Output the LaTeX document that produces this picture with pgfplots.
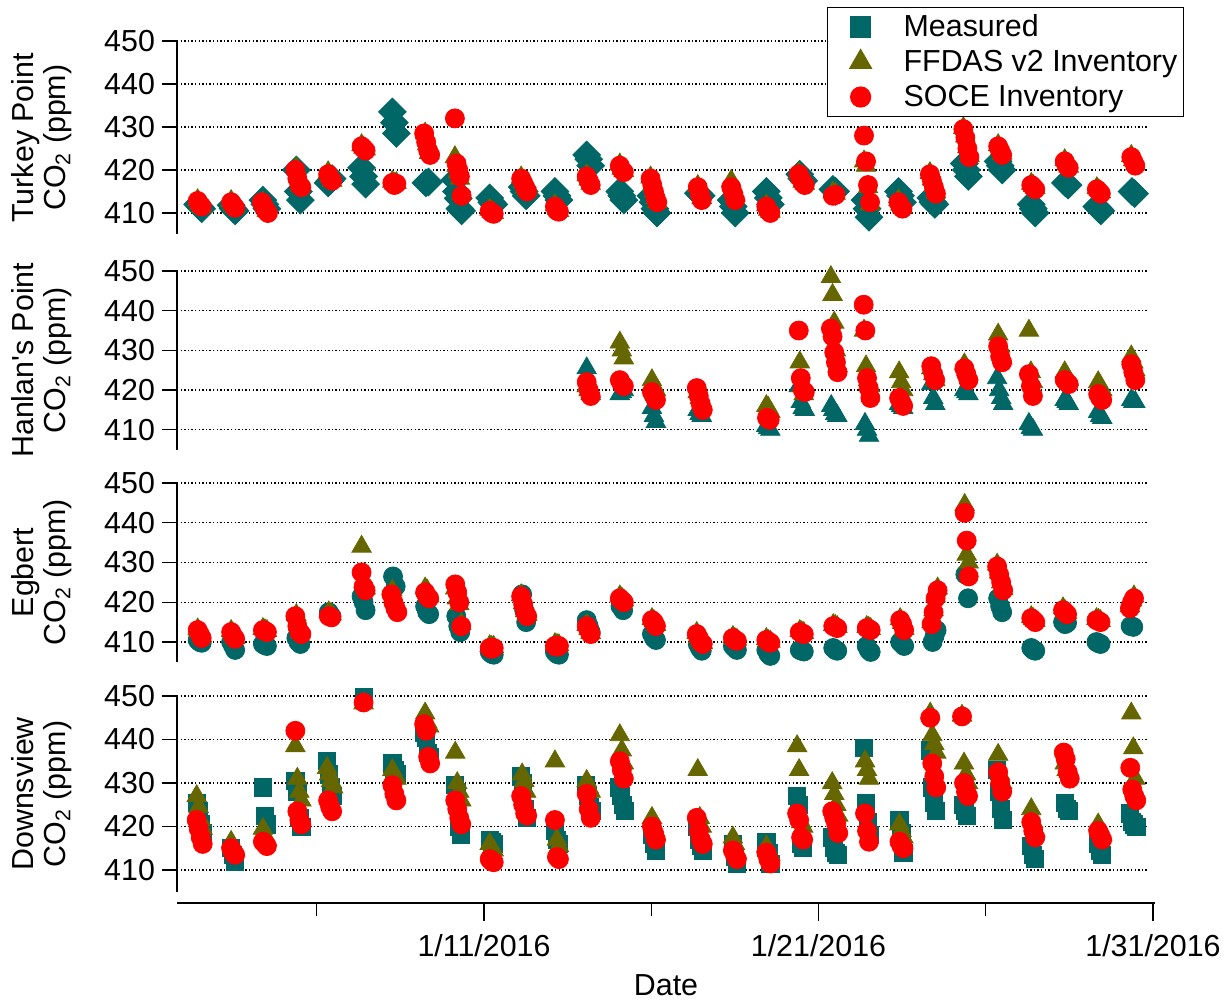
\documentclass[border=0pt]{standalone}
\usepackage{fontspec}
\setmainfont{Liberation Sans}
\usepackage{pgfplots}
\pgfplotsset{compat=1.18}
\definecolor{mteal}{RGB}{0,102,102}
\definecolor{molive}{RGB}{102,102,0}
\definecolor{mred}{RGB}{255,0,0}
\newcommand{\fs}{\fontsize{15.2}{16}\selectfont}
\pgfplotsset{
 panel/.style={
  scale only axis, width=485.5pt, xmin=1.822, xmax=30.85, ymin=405, ymax=450,
  axis x line=none, axis y line*=left, ytick={410,420,...,450},
  tick align=outside, major tick length=7.5pt,
  ymajorgrids, major grid style={black, line width=0.6pt, dash pattern=on 0.7pt off 1.1pt},
  axis line style={black, line width=0.9pt},
  tick style={black, line width=0.7pt},
  tick label style={font=\fs},
  /pgf/number format/assume math mode=true,
  /pgf/number format/1000 sep={},
  clip=false, anchor=south west,
  ylabel style={align=center, font=\fs, inner sep=0pt, at={(axis description cs:-0.108,0.5)}, anchor=south},
 },
 sMd/.style={only marks, mark=square*, mark size=4.9pt, mark options={rotate=45, draw=mteal, fill=mteal}},
 sMt/.style={only marks, mark=triangle*, mark size=5.6pt, mark options={draw=mteal, fill=mteal}},
 sMc/.style={only marks, mark=*, mark size=4.75pt, mark options={draw=mteal, fill=mteal}},
 sMs/.style={only marks, mark=square*, mark size=4.3pt, mark options={draw=mteal, fill=mteal}},
 sF/.style={only marks, mark=triangle*, mark size=5.6pt, mark options={draw=molive, fill=molive}},
 sS/.style={only marks, mark=*, mark size=4.75pt, mark options={draw=mred, fill=mred}},
}
\begin{document}
\begin{tikzpicture}
\useasboundingbox (0,0) rectangle (615.5pt,502pt);
% ---------------- Turkey Point ----------------
\begin{axis}[panel, at={(88.5pt,384.75pt)}, height=96.75pt,
  ylabel={Turkey Point\\CO\textsubscript{2} (ppm)},
  legend style={at={(1.037,1.176)}, anchor=north east, draw=black, line width=0.6pt, fill=white,
    font=\fs, inner xsep=1.5pt, inner ysep=1pt, row sep=0pt,
    nodes={inner xsep=1.5pt, inner ysep=1.25pt, text height=12pt, text depth=3pt}},
  legend cell align=left,
  legend image code/.code={\path[draw=none,fill=none] (-15pt,0pt) (20pt,0pt); \draw[#1] plot coordinates {(0pt,0pt)};}]
\addlegendimage{only marks, mark=square*, mark size=5pt, mark options={draw=mteal, fill=mteal}}
\addlegendentry{Measured}
\addlegendimage{only marks, mark=triangle*, mark size=6.2pt, mark options={draw=molive, fill=molive}}
\addlegendentry{FFDAS v2 Inventory}
\addlegendimage{only marks, mark=*, mark size=5pt, mark options={draw=mred, fill=mred}}
\addlegendentry{SOCE Inventory}
\addplot[sMd, forget plot] coordinates {
(2.44,412)(2.5,411.5)(2.56,411)
(3.44,411.8)(3.5,411)(3.56,410.5)
(4.39,413)(4.45,412)(4.51,411)
(5.39,420)(5.45,415)(5.51,413)
(6.34,417)(6.4,417.5)(6.46,418)
(7.34,420.5)(7.4,418.5)(7.46,416.7)
(8.26,433.5)(8.32,431)(8.38,428.5)
(9.26,417)(9.34,417.2)
(10.13,417.7)(10.18,415)(10.23,413.4)(10.28,411)(10.33,410.5)
(11.17,413.5)(11.23,412.5)(11.29,412)
(12.14,416)(12.2,415)(12.26,414)
(13.12,415)(13.18,414)(13.24,413)
(14.07,423.5)(14.13,422.5)(14.19,421)
(15.06,415)(15.12,414)(15.18,413)
(15.99,414)(16.05,412.5)(16.11,411)(16.17,410)
(17.41,414.6)(17.49,414)
(18.39,413)(18.45,411.5)(18.51,410)
(19.44,415)(19.5,413.5)(19.56,412)
(20.44,419)(20.5,418)(20.56,417.5)
(21.43,415.5)(21.51,415)
(22.39,413)(22.45,411)(22.51,409)
(23.39,415)(23.45,414)(23.51,412.5)
(24.36,413.5)(24.42,412.5)(24.48,412)
(25.36,421.5)(25.42,420)(25.48,418.5)
(26.37,422)(26.43,421)(26.49,420)
(27.36,412)(27.42,411)(27.48,410)
(28.38,417)(28.46,416.5)
(29.32,411.5)(29.38,411)(29.44,410.5)
(30.37,415)(30.45,414.5)
};
\addplot[sF, forget plot] coordinates {
(2.44,413)(2.5,412.2)(2.56,411.5)
(3.44,412.8)(3.5,412)(3.56,411.5)
(4.39,412.5)(4.45,411.5)(4.51,410.5)
(5.39,420.5)(5.45,418.5)(5.51,416.5)
(6.34,419.5)(6.4,418.5)(6.46,417.5)
(7.34,425.8)(7.4,425.2)(7.46,424.8)
(8.26,417.3)(8.32,416.8)(8.38,417)
(9.24,428.5)(9.3,426)(9.36,424)
(10.13,423)(10.18,421)(10.23,419.5)(10.28,418)(10.33,414.5)
(11.17,410.8)(11.23,410.3)(11.29,410)
(12.11,418.3)(12.17,417.2)(12.23,416)(12.29,415.3)
(13.12,411.8)(13.18,411)(13.24,410.5)
(14.07,418.8)(14.13,417.8)(14.19,416.8)
(15.06,421.3)(15.12,420.3)(15.18,419.8)
(15.98,418.3)(16.03,416.5)(16.08,415)(16.13,413.5)(16.18,412.5)
(17.39,416.3)(17.45,415)(17.51,413.5)
(18.39,417.5)(18.45,416)(18.51,414)
(19.44,411.8)(19.5,410.8)(19.56,410.3)
(20.41,419.3)(20.47,418.3)(20.53,417.3)(20.59,416.8)
(21.43,414.8)(21.51,414.5)
(22.36,422)(22.42,421)(22.48,416)(22.54,412)
(23.39,413)(23.45,412)(23.51,411.3)
(24.33,419.3)(24.39,417.8)(24.45,416.3)(24.51,414.8)
(25.33,429.8)(25.39,427.8)(25.45,425.3)(25.51,423.3)
(26.37,425.8)(26.43,424.8)(26.49,423.8)
(27.36,416.8)(27.42,416.3)(27.48,415.8)
(28.36,422.3)(28.42,421.3)(28.48,420.8)
(29.32,415.8)(29.38,415.3)(29.44,414.8)
(30.35,423.3)(30.41,422.3)(30.47,421.3)
};
\addplot[sS, forget plot] coordinates {
(2.44,412.8)(2.5,412)(2.56,411.5)
(3.44,412.5)(3.5,411.8)(3.56,411.2)
(4.36,412.5)(4.42,411.5)(4.48,410.5)(4.54,410)
(5.36,420)(5.42,418)(5.48,416.5)(5.54,416)
(6.34,419)(6.4,418)(6.46,417.5)
(7.34,425.5)(7.4,425)(7.46,424.5)
(8.26,417)(8.32,416.5)(8.38,416.8)
(9.21,428.5)(9.27,426.5)(9.33,424.5)(9.39,423.5)
(10.13,432)(10.18,421.5)(10.23,420)(10.28,418.5)(10.33,414)
(11.17,410.5)(11.23,410)(11.29,409.8)
(12.11,418)(12.17,417)(12.23,416)(12.29,415)
(13.12,411.5)(13.18,410.5)(13.24,410.3)
(14.07,418.5)(14.13,417.5)(14.19,416.5)
(15.06,421)(15.12,420)(15.18,419.5)
(15.98,418)(16.03,416.5)(16.08,415)(16.13,413.5)(16.18,412.5)
(17.39,416)(17.45,414.5)(17.51,413)
(18.39,416)(18.45,414.5)(18.51,413)
(19.44,411.5)(19.5,410.5)(19.56,410)
(20.41,419)(20.47,418)(20.53,417)(20.59,416.5)
(21.43,414)(21.51,414.2)
(22.36,428)(22.42,422)(22.48,416.5)(22.54,412.5)
(23.39,412.5)(23.45,411.5)(23.51,411)
(24.33,419)(24.39,417.5)(24.45,416)(24.51,414.5)
(25.33,429.5)(25.39,427.5)(25.45,425)(25.51,423)
(26.37,425.5)(26.43,424.5)(26.49,423.5)
(27.36,416.5)(27.42,416)(27.48,415.5)
(28.36,422)(28.42,421)(28.48,420.5)
(29.32,415.5)(29.38,415)(29.44,414.5)
(30.35,423)(30.41,422)(30.47,421)
};
\end{axis}
% ---------------- Hanlan's Point ----------------
\begin{axis}[panel, at={(88.5pt,277.2pt)}, height=89.3pt,
  ylabel={Hanlan\textquotesingle s Point\\CO\textsubscript{2} (ppm)}]
\addplot[sMt] coordinates {
(14.07,425.5)(14.13,421)(14.19,419)
(15.06,419)(15.12,419.5)(15.18,420)
(16.02,415.5)(16.08,413.5)(16.14,412)
(17.39,415)(17.45,414)(17.51,413.5)
(19.44,411)(19.5,410.5)(19.56,410)
(20.41,421)(20.47,417)(20.53,415.5)(20.59,415)
(21.38,416)(21.44,415)(21.5,414)(21.56,413.5)
(22.39,411.5)(22.45,410)(22.51,408.5)
(23.41,416.5)(23.47,416)(23.53,415.5)
(24.37,421.5)(24.43,418)(24.49,416.5)
(25.36,420)(25.42,419.5)(25.48,419)
(26.34,423)(26.4,420)(26.46,418)(26.52,416.5)
(27.29,411.5)(27.35,410.5)(27.41,410)
(28.36,417.5)(28.42,417)(28.48,416.5)
(29.36,414.5)(29.42,413.5)(29.48,413)
(30.35,417.5)(30.41,417)(30.47,417)
};
\addplot[sF] coordinates {
(14.07,421)(14.13,420)(14.19,419.5)
(15.06,432)(15.12,430)(15.18,428)
(16.02,422.5)(16.08,421)(16.14,420)
(17.39,419.5)(17.45,418)(17.51,416.5)
(19.44,416)(19.5,415.5)(19.56,414.5)
(20.44,427)(20.5,421)(20.56,419)
(21.37,448.5)(21.42,444)(21.47,437)(21.52,430)(21.57,426)
(22.36,435)(22.42,426)(22.48,422.5)(22.54,421)
(23.41,424.5)(23.47,422)(23.53,420)
(24.37,425.5)(24.43,424)(24.49,422.5)
(25.36,426.5)(25.42,425)(25.48,424)
(26.37,434)(26.43,431)(26.49,428)
(27.29,435)(27.35,424.5)(27.41,422)
(28.36,424.5)(28.42,423)(28.48,422.5)
(29.36,422)(29.42,421)(29.48,420)
(30.35,428.5)(30.41,427)(30.47,425)
};
\addplot[sS] coordinates {
(14.07,422)(14.13,420)(14.19,418.5)
(15.06,422.5)(15.12,421.5)(15.18,421)
(16.02,419.5)(16.08,418.5)(16.14,417.5)
(17.36,420.5)(17.42,418.5)(17.48,416.5)(17.54,415)
(19.46,413)(19.54,412.5)
(20.41,435)(20.47,423)(20.53,420)(20.59,419.5)
(21.37,435.5)(21.42,433.5)(21.47,429.5)(21.52,427)(21.57,424.5)
(22.35,441.5)(22.4,435)(22.45,423)(22.5,420.5)(22.55,418)
(23.41,418)(23.47,417)(23.53,416)
(24.37,426)(24.43,424)(24.49,422.5)
(25.36,425.5)(25.42,424)(25.48,422.5)
(26.37,431)(26.43,428.5)(26.49,427)
(27.29,424)(27.35,421)(27.41,418.5)
(28.36,422.5)(28.42,422)(28.48,421.5)
(29.36,419)(29.42,418)(29.48,417.5)
(30.35,426.5)(30.41,424.5)(30.47,422.5)
};
\end{axis}
% ---------------- Egbert ----------------
\begin{axis}[panel, at={(88.5pt,171.05pt)}, height=89.45pt,
  ylabel={Egbert\\CO\textsubscript{2} (ppm)}]
\addplot[sMc] coordinates {
(2.44,410.5)(2.5,410)(2.56,409.8)
(3.44,410)(3.5,409)(3.56,408)
(4.39,409.5)(4.45,409.2)(4.51,409)
(5.39,411)(5.45,410)(5.51,409.5)
(6.36,417.5)(6.44,416.5)
(7.34,421.5)(7.4,420)(7.46,418)
(8.28,426.5)(8.36,424)
(9.24,419)(9.3,417.5)(9.36,417)
(10.17,416.5)(10.23,414)(10.29,412.5)
(11.17,407.5)(11.23,407)(11.29,406.8)
(12.14,422)(12.2,418)(12.26,415)
(13.12,407.5)(13.18,407)(13.24,406.8)
(14.07,415.5)(14.13,414)(14.19,412.5)
(15.08,419)(15.16,418)
(16.02,412)(16.08,411)(16.14,410.5)
(17.39,409.5)(17.45,408.5)(17.51,407.8)
(18.44,409)(18.5,408.5)(18.56,408)
(19.44,408)(19.5,407)(19.56,406.5)
(20.44,408)(20.5,407.8)(20.56,407.6)
(21.44,408.5)(21.5,408)(21.56,407.8)
(22.44,409)(22.5,408)(22.56,407.5)
(23.44,410)(23.5,409.5)(23.56,409)
(24.41,410)(24.47,411.5)(24.53,413)
(25.39,427)(25.47,421)
(26.37,421)(26.43,419)(26.49,417.5)
(27.36,408.5)(27.42,408)(27.48,407.8)
(28.31,415)(28.37,414.5)(28.43,414.8)
(29.31,410)(29.37,409.7)(29.43,409.5)
(30.33,414)(30.41,413.8)
};
\addplot[sF] coordinates {
(2.44,413.2)(2.5,412.5)(2.56,411.5)
(3.44,412.8)(3.5,412)(3.56,411)
(4.39,413.3)(4.45,413)(4.51,412.8)
(5.39,416.8)(5.45,414.2)(5.51,412.5)
(6.36,417.5)(6.44,417)
(7.34,434)(7.4,425)(7.46,423.5)
(8.26,423)(8.32,421)(8.38,419)
(9.24,423.5)(9.3,423)(9.36,421.5)
(10.14,423.5)(10.2,421)(10.26,419.5)(10.32,414.5)
(11.17,409)(11.23,408.8)(11.29,408.8)
(12.11,421.8)(12.17,419.8)(12.23,417.8)(12.29,416.8)
(13.12,409.5)(13.18,409.3)(13.24,409.2)
(14.07,414.3)(14.13,413.3)(14.19,412.3)
(15.06,421.5)(15.12,421)(15.18,420.5)
(16.02,415.8)(16.08,415.3)(16.14,414.3)
(17.36,412.3)(17.42,411.3)(17.48,410.3)(17.54,409.8)
(18.44,411.3)(18.5,410.8)(18.56,410.6)
(19.44,410.8)(19.5,410.3)(19.56,410.1)
(20.44,412.8)(20.5,412.5)(20.56,412.3)
(21.44,414.3)(21.5,414.1)(21.56,413.8)
(22.44,413.8)(22.5,413.6)(22.56,413.3)
(23.44,415.8)(23.5,414.8)(23.56,413.3)
(24.38,415)(24.44,418)(24.5,421.5)(24.56,423.5)
(25.37,444.5)(25.43,432)(25.49,430)
(26.34,429.5)(26.4,427.5)(26.46,425)(26.52,423.3)
(27.36,416.3)(27.42,415.8)(27.48,415.3)
(28.31,418.5)(28.37,417.8)(28.43,417.3)
(29.31,415.8)(29.37,415.6)(29.43,415.3)
(30.31,419)(30.37,420.5)(30.43,421.5)
};
\addplot[sS] coordinates {
(2.44,413)(2.5,412)(2.56,411)
(3.44,412.5)(3.5,411.5)(3.56,410.8)
(4.39,413)(4.45,412.8)(4.51,412.5)
(5.36,416.5)(5.42,414)(5.48,412.5)(5.54,412)
(6.36,416.5)(6.44,416.2)
(7.34,427.5)(7.4,424)(7.46,423)
(8.23,422)(8.29,420)(8.35,418.5)(8.41,417.5)
(9.24,422.5)(9.3,421.5)(9.36,421)
(10.14,424.5)(10.2,422.5)(10.26,420)(10.32,414)
(11.17,408.5)(11.23,408.3)(11.29,408.5)
(12.11,421.5)(12.17,419.5)(12.23,417.5)(12.29,416.5)
(13.12,409)(13.18,408.8)(13.24,409)
(14.07,414)(14.13,413)(14.19,412)
(15.06,421)(15.12,420.5)(15.18,420)
(16.02,415.5)(16.08,415)(16.14,414)
(17.36,412)(17.42,411)(17.48,410)(17.54,409.5)
(18.44,411)(18.5,410.5)(18.56,410.3)
(19.44,410.5)(19.5,410)(19.56,409.8)
(20.44,412.5)(20.5,412.2)(20.56,412)
(21.44,414)(21.5,413.8)(21.56,413.5)
(22.44,413.5)(22.5,413.3)(22.56,413)
(23.44,415.5)(23.5,414.5)(23.56,413)
(24.38,414.5)(24.44,417.5)(24.5,421)(24.56,423)
(25.37,442.5)(25.43,435.5)(25.49,426.5)
(26.34,429)(26.4,427)(26.46,425)(26.52,423)
(27.36,416)(27.42,415.5)(27.48,415)
(28.31,418)(28.37,417.5)(28.43,417)
(29.31,415.5)(29.37,415.3)(29.43,415)
(30.31,418.5)(30.37,420)(30.43,421)
};
\end{axis}
% ---------------- Downsview ----------------
\begin{axis}[panel, at={(88.5pt,56.1pt)}, height=97.9pt,
  ylabel={Downsview\\CO\textsubscript{2} (ppm)}]
\addplot[sMs] coordinates {
(2.41,425.5)(2.47,423.5)(2.53,420.5)(2.59,418.5)
(3.44,415)(3.5,413.5)(3.56,412)
(4.39,429)(4.45,422.5)(4.51,420.5)
(5.36,430.5)(5.42,428)(5.48,422)(5.54,420)
(6.31,435)(6.37,432)(6.43,429)(6.49,427)
(7.4,449.7)
(8.26,434.5)(8.32,433)(8.38,432)
(9.21,441.5)(9.27,440.5)(9.33,437)(9.39,436)
(10.14,429.5)(10.2,428)(10.26,420)(10.32,418)
(11.17,417)(11.23,416.5)(11.29,416)
(12.11,431.5)(12.17,430)(12.23,424)(12.29,422)
(13.12,419)(13.18,417)(13.24,416)
(14.04,429.5)(14.1,427)(14.16,424.5)(14.22,423.5)
(15.03,429)(15.09,427)(15.15,425)(15.21,423.5)
(16.02,418)(16.08,416)(16.14,414.5)
(17.36,420)(17.42,417)(17.48,415.5)(17.54,414.5)
(18.44,416)(18.5,413)(18.56,411.5)
(19.44,416.5)(19.5,414)(19.56,411.5)
(20.36,427)(20.42,425)(20.48,416)(20.54,415)
(21.41,417.5)(21.47,415)(21.53,414)(21.59,413.5)
(22.36,438)(22.42,425.5)(22.48,421)(22.54,418)
(23.42,421.5)(23.48,418.5)(23.54,414)
(24.34,437.5)(24.4,429)(24.46,425.5)(24.52,423.5)
(25.32,425)(25.38,423.5)(25.44,422.5)
(26.34,433)(26.4,428)(26.46,424)(26.52,421.5)
(27.36,415.5)(27.42,413.5)(27.48,412.5)
(28.36,425.5)(28.42,424)(28.48,423.5)
(29.36,416)(29.42,414.5)(29.48,413.5)
(30.32,423)(30.38,421)(30.44,420.5)(30.5,420)
};
\addplot[sF] coordinates {
(2.41,427)(2.47,424.5)(2.53,421.5)(2.59,419.5)
(3.44,416.5)(3.5,415.5)(3.56,414.5)
(4.39,419.5)(4.45,418)(4.51,417)
(5.36,438.5)(5.42,431)(5.48,428)(5.54,426)
(6.31,433.5)(6.37,432)(6.43,430.5)(6.49,429)
(7.4,448.3)
(8.26,433)(8.32,432)(8.38,431)
(9.24,446)(9.3,444)(9.36,443)
(10.14,437)(10.2,430)(10.26,428)(10.32,426)
(11.17,416)(11.23,415)(11.29,414.5)
(12.14,432)(12.2,430.5)(12.26,428)
(13.12,435)(13.18,417)(13.24,415.5)
(14.07,430.5)(14.13,429)(14.19,428)
(15.06,441)(15.12,437.5)(15.18,434.5)
(16.02,422)(16.08,420)(16.14,418)
(17.39,433)(17.45,422)(17.51,420)
(18.44,417.5)(18.5,416)(18.56,414)
(19.44,415.5)(19.5,414.5)(19.56,413.5)
(20.36,438.5)(20.42,433)(20.48,421)(20.54,420)
(21.41,430)(21.47,427.5)(21.53,425)(21.59,422.5)
(22.39,435)(22.45,433)(22.51,431)
(23.42,420.5)(23.48,419)(23.54,417.5)
(24.34,446)(24.4,441)(24.46,439)(24.52,437)
(25.29,445.5)(25.35,434.5)(25.41,432)(25.47,430)
(26.37,436.5)(26.43,432)(26.49,430)
(27.36,424)(27.42,421)(27.48,419)
(28.36,434.5)(28.42,433)(28.48,432.5)
(29.36,420.5)(29.42,419.5)(29.48,418)
(30.35,446)(30.41,438)(30.47,431)
};
\addplot[sS] coordinates {
(2.41,421.5)(2.47,419.5)(2.53,417.5)(2.59,416)
(3.44,415)(3.5,414)(3.56,413.5)
(4.39,416.5)(4.45,416)(4.51,415.5)
(5.36,442)(5.42,423.5)(5.48,421.5)(5.54,420.5)
(6.34,426)(6.4,424.5)(6.46,423.5)
(7.4,448.5)
(8.26,429.5)(8.32,427.5)(8.38,426)
(9.21,443.5)(9.27,442)(9.33,436)(9.39,434.5)
(10.14,426)(10.2,424)(10.26,422)(10.32,420.5)
(11.17,412.5)(11.23,412)(11.29,411.8)
(12.11,427)(12.17,425)(12.23,423)(12.29,422.5)
(13.12,421.5)(13.18,413)(13.24,412.5)
(14.07,427.5)(14.13,424)(14.19,422)
(15.06,435)(15.12,433)(15.18,431)
(16.02,420)(16.08,418.5)(16.14,417)
(17.36,422)(17.42,419)(17.48,417)(17.54,416)
(18.44,414.5)(18.5,413.5)(18.56,412.5)
(19.44,414)(19.5,412.5)(19.56,411.5)
(20.36,423)(20.42,421.5)(20.48,417.5)(20.54,417)
(21.41,423.5)(21.47,422)(21.53,420.5)(21.59,418.5)
(22.39,423)(22.45,419)(22.51,416.5)
(23.42,416.5)(23.48,415.5)(23.54,415)
(24.34,445)(24.4,434.5)(24.46,431.5)(24.52,429)
(25.29,445.3)(25.35,430)(25.41,428)(25.47,427)
(26.37,432.5)(26.43,430)(26.49,428)
(27.36,421)(27.42,419)(27.48,417.5)
(28.33,437)(28.39,435.5)(28.45,432.5)(28.51,431)
(29.36,419)(29.42,418)(29.48,417)
(30.32,433.5)(30.38,428.5)(30.44,427)(30.5,426)
};
\end{axis}
% ---------------- shared date axis ----------------
\begin{axis}[scale only axis, width=489pt, height=1pt, at={(88.5pt,50.5pt)}, anchor=south west,
  xmin=1.822, xmax=31.06, ymin=0, ymax=1, hide y axis, axis x line*=bottom,
  xtick={11,21,31}, xticklabels={1/11/2016,1/21/2016,1/31/2016},
  minor xtick={6,16,26}, tick align=outside, major tick length=9pt, minor tick length=6.5pt,
  axis line style={black, line width=0.9pt}, tick style={black, line width=0.7pt},
  tick label style={font=\fs}, xticklabel style={yshift=-3pt},
  label style={font=\fs}, xlabel={Date}, xlabel style={yshift=-2pt}]
\end{axis}
\end{tikzpicture}
\end{document}
